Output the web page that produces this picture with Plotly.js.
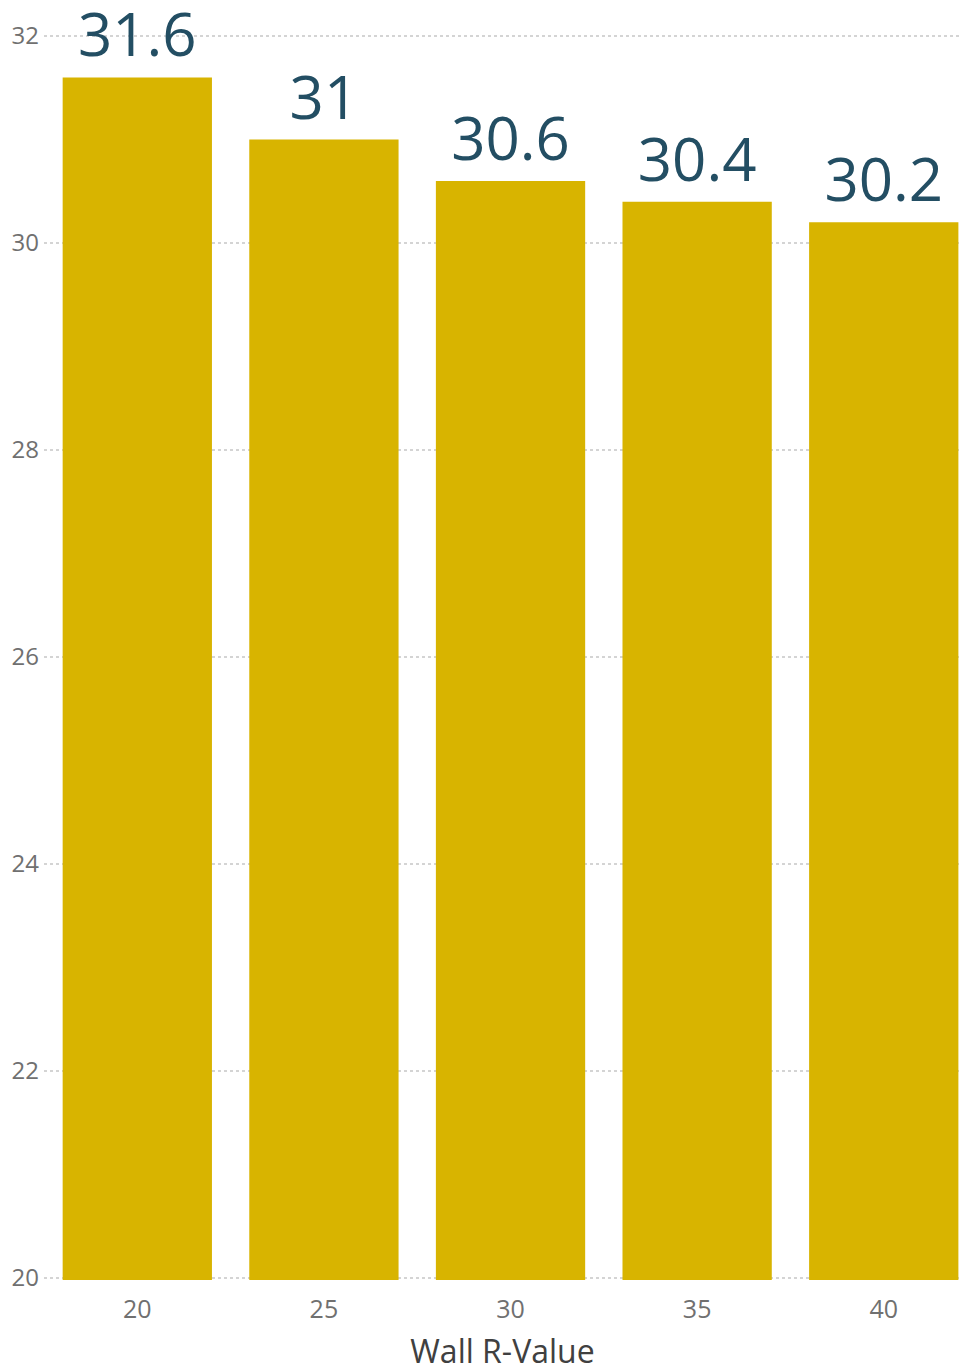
<!DOCTYPE html>
<html>
<head>
<meta charset="utf-8">
<script src="https://cdn.plot.ly/plotly-3.0.1.min.js"></script>
<style>
  html, body { margin: 0; padding: 0; background: #ffffff; }
  #chart { width: 961px; height: 1372px; }
</style>
</head>
<body>
<div id="chart"></div>
<script>
// Wall R-Value categories and the resulting values
const rValues = ['20', '25', '30', '35', '40'];
const results = [31.6, 31.0, 30.6, 30.4, 30.2];
const yTicks = [20, 22, 24, 26, 28, 30, 32];

const trace = {
  type: 'bar',
  x: rValues,
  y: results,
  marker: { color: '#D8B400' },
  text: results.map(v => String(v)),
  texttemplate: '%{text}',
  textposition: 'outside',
  cliponaxis: false,
  textfont: { family: 'Open Sans, sans-serif', size: 60, color: '#234E63' },
  hoverinfo: 'x+y'
};

const layout = {
  width: 961,
  height: 1372,
  margin: { l: 44, r: 0, t: 34, b: 92 },
  paper_bgcolor: '#ffffff',
  plot_bgcolor: '#ffffff',
  bargap: 0.2,
  showlegend: false,
  font: { family: 'Open Sans, sans-serif', color: '#707070' },
  xaxis: {
    type: 'category',
    range: [-0.5, 4.414],
    showgrid: false,
    zeroline: false,
    showline: false,
    ticks: '',
    ticklabelstandoff: 12,
    tickfont: { size: 25, color: '#707070' },
    title: {
      text: 'Wall R-Value',
      font: { size: 32, color: '#404040' },
      standoff: 22
    }
  },
  yaxis: {
    range: [19.98, 32.02],
    tickvals: yTicks,
    ticktext: yTicks.map(String),
    showgrid: true,
    gridcolor: '#d4d4d4',
    gridwidth: 2,
    griddash: 'dot',
    zeroline: false,
    showline: false,
    ticks: '',
    tickfont: { size: 24, color: '#707070' },
    ticklabelstandoff: 4
  }
};

Plotly.newPlot('chart', [trace], layout, { displayModeBar: false, staticPlot: true });
</script>
</body>
</html>
